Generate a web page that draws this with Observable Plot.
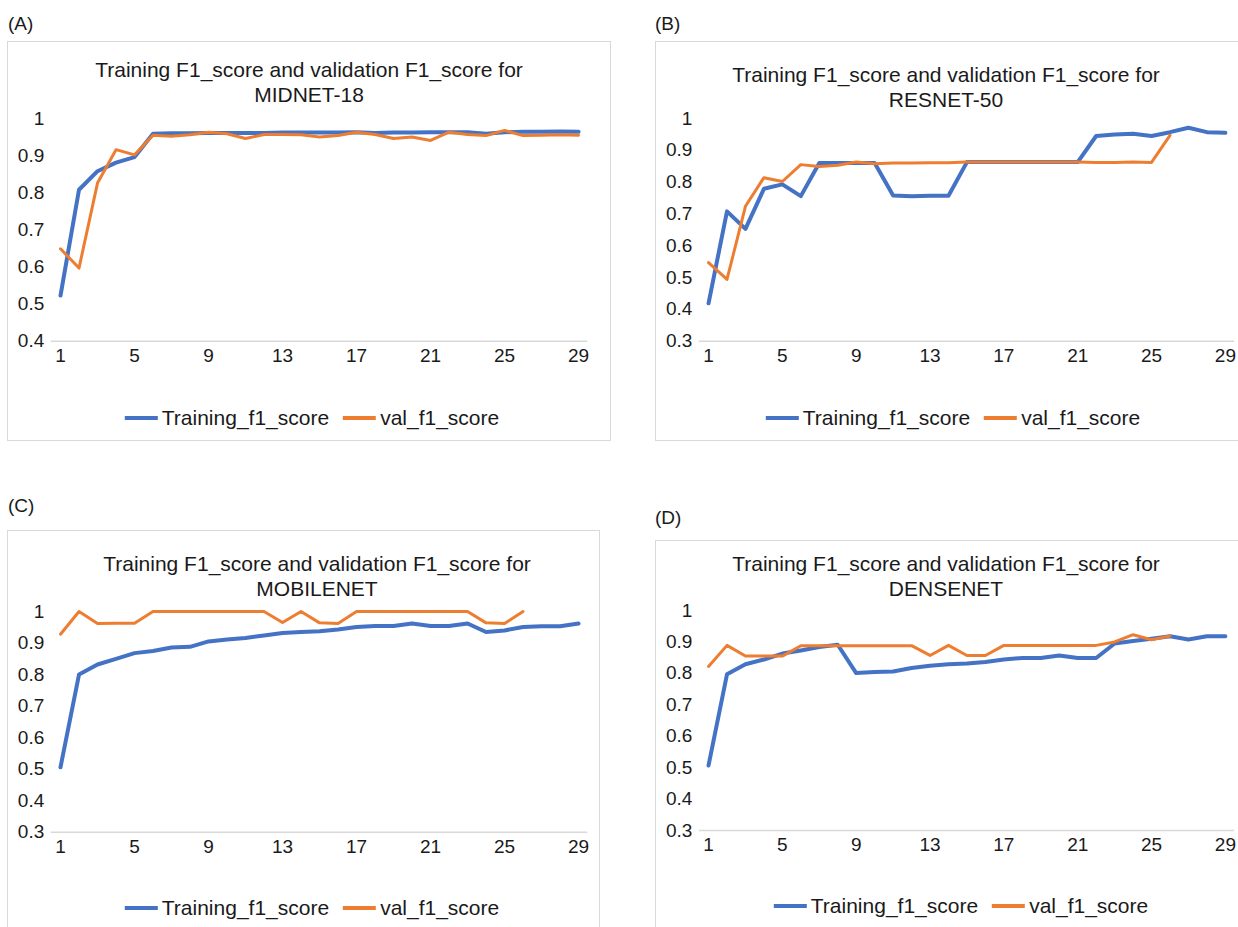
<!DOCTYPE html>
<html>
<head>
<meta charset="utf-8">
<script src="https://cdn.jsdelivr.net/npm/d3@7"></script>
<script src="https://cdn.jsdelivr.net/npm/@observablehq/plot@0.6"></script>
<style>
  html, body { margin: 0; padding: 0; background: #fff; }
  #root { position: relative; width: 1238px; height: 927px; overflow: hidden; font-family: "Liberation Sans", Arial, sans-serif; color: #1a1a1a; }
  .frame { position: absolute; border: 1px solid #d9d9d9; box-sizing: border-box; }
  .plabel { position: absolute; font-size: 19px; line-height: 1; }
  .title { position: absolute; font-size: 21px; line-height: 25px; text-align: center; white-space: nowrap; transform: translateX(-50%); }
  .legend { position: absolute; display: flex; align-items: center; font-size: 21px; white-space: nowrap; transform: translate(-50%, -50%); }
  .sw { display: inline-block; width: 33px; height: 4px; margin-right: 4px; }
  .item { display: flex; align-items: center; margin: 0 7px; }
  .chart { position: absolute; }
</style>
</head>
<body>
<div id="root"></div>
<script>
// ---- data ----
const epochs = [1,2,3,4,5,6,7,8,9,10,11,12,13,14,15,16,17,18,19,20,21,22,23,24,25,26,27,28,29];
const xTicks = [1,5,9,13,17,21,25,29];
const yTicksA = [0.4,0.5,0.6,0.7,0.8,0.9,1];
const yTicksBCD = [0.3,0.4,0.5,0.6,0.7,0.8,0.9,1];
const seriesNames = ["Training_f1_score", "val_f1_score"];
const panelLabels = ["(A)", "(B)", "(C)", "(D)"];
const modelNames = ["MIDNET-18", "RESNET-50", "MOBILENET", "DENSENET"];

const midnetTrain = [0.523,0.808,0.858,0.881,0.896,0.959,0.960,0.960,0.961,0.961,0.961,0.961,0.962,0.962,0.962,0.962,0.963,0.961,0.962,0.962,0.963,0.963,0.963,0.959,0.963,0.964,0.964,0.965,0.964];
const midnetVal   = [0.649,0.597,0.826,0.916,0.902,0.955,0.952,0.956,0.963,0.959,0.946,0.957,0.957,0.956,0.950,0.954,0.963,0.957,0.946,0.950,0.941,0.963,0.957,0.954,0.968,0.954,0.955,0.956,0.955];

const resnetTrain = [0.419,0.708,0.653,0.779,0.793,0.756,0.860,0.860,0.860,0.860,0.758,0.756,0.757,0.757,0.863,0.863,0.863,0.863,0.863,0.863,0.863,0.945,0.950,0.952,0.945,0.957,0.971,0.957,0.955];
const resnetVal   = [0.547,0.494,0.724,0.814,0.802,0.855,0.849,0.853,0.863,0.858,0.860,0.860,0.861,0.861,0.863,0.863,0.863,0.863,0.863,0.863,0.863,0.862,0.862,0.863,0.862,0.947];

const mobilenetTrain = [0.506,0.800,0.832,0.850,0.868,0.875,0.886,0.888,0.905,0.911,0.916,0.924,0.932,0.935,0.937,0.943,0.951,0.954,0.954,0.962,0.954,0.954,0.962,0.935,0.940,0.951,0.953,0.953,0.962];
const mobilenetVal   = [0.928,1.0,0.962,0.963,0.963,1.0,1.0,1.0,1.0,1.0,1.0,1.0,0.965,1.0,0.964,0.962,1.0,1.0,1.0,1.0,1.0,1.0,1.0,0.964,0.962,1.0];

const densenetTrain = [0.507,0.797,0.829,0.844,0.863,0.873,0.884,0.891,0.801,0.804,0.806,0.817,0.824,0.829,0.831,0.836,0.844,0.849,0.849,0.857,0.849,0.849,0.895,0.903,0.910,0.918,0.908,0.918,0.918];
const densenetVal   = [0.822,0.889,0.855,0.855,0.855,0.888,0.888,0.888,0.888,0.888,0.888,0.888,0.857,0.889,0.857,0.857,0.889,0.889,0.889,0.889,0.889,0.889,0.900,0.923,0.907,0.919];

const colors = ["#4472C4", "#ED7D31"];

// ---- layout ----
const panels = [
  {train: midnetTrain, val: midnetVal, yTicks: yTicksA, frame: {l:7, t:41, w:604, h:400}, m: {l:43.75, r:23.7, t:77, b:100.3},
   label: {x:8, y:14}, title: {x:309, y:57}, legend: {x:312, y:418}},
  {train: resnetTrain, val: resnetVal, yTicks: yTicksBCD, frame: {l:655, t:41, w:590, h:400}, m: {l:43.8, r:10.9, t:77, b:100.3},
   label: {x:655, y:14}, title: {x:946, y:62}, legend: {x:953, y:418}},
  {train: mobilenetTrain, val: mobilenetVal, yTicks: yTicksBCD, frame: {l:7, t:530, w:593, h:405}, m: {l:43.75, r:12.7, t:81, b:103.3},
   label: {x:8, y:496}, title: {x:317, y:551}, legend: {x:312, y:908}},
  {train: densenetTrain, val: densenetVal, yTicks: yTicksBCD, frame: {l:655, t:540, w:590, h:395}, m: {l:43.8, r:10.9, t:70, b:105},
   label: {x:655, y:508}, title: {x:946, y:551}, legend: {x:961, y:906}}
];

const root = document.getElementById("root");
const fmt = d => String(+(+d).toFixed(1));

panels.forEach((p, i) => {
  const frame = document.createElement("div");
  frame.className = "frame";
  Object.assign(frame.style, {left: p.frame.l + "px", top: p.frame.t + "px", width: p.frame.w + "px", height: p.frame.h + "px"});
  root.appendChild(frame);

  const lab = document.createElement("div");
  lab.className = "plabel";
  lab.textContent = panelLabels[i];
  Object.assign(lab.style, {left: p.label.x + "px", top: p.label.y + "px"});
  root.appendChild(lab);

  const rows = [];
  p.train.forEach((v, k) => rows.push({epoch: epochs[k], value: v, series: seriesNames[0]}));
  p.val.forEach((v, k) => rows.push({epoch: epochs[k], value: v, series: seriesNames[1]}));

  const chart = Plot.plot({
    width: p.frame.w,
    height: p.frame.h,
    marginLeft: p.m.l, marginRight: p.m.r, marginTop: p.m.t, marginBottom: p.m.b,
    style: {fontSize: "19px", fontFamily: '"Liberation Sans", Arial, sans-serif', color: "#1a1a1a", background: "transparent", overflow: "visible"},
    x: {domain: [0.5, 29.5], ticks: xTicks, tickFormat: d => String(d), tickSize: 0, tickPadding: 7, label: null},
    y: {domain: [p.yTicks[0], 1], ticks: p.yTicks, tickFormat: fmt, tickSize: 0, tickPadding: 7, label: null},
    color: {domain: seriesNames, range: colors},
    marks: [
      Plot.ruleY([p.yTicks[0]], {stroke: "#d9d9d9", strokeWidth: 1.5}),
      Plot.line(rows.filter(r => r.series === seriesNames[0]), {x: "epoch", y: "value", stroke: "series", strokeWidth: 4, strokeLinejoin: "round", strokeLinecap: "round"}),
      Plot.line(rows.filter(r => r.series === seriesNames[1]), {x: "epoch", y: "value", stroke: "series", strokeWidth: 3, strokeLinejoin: "round", strokeLinecap: "round"})
    ]
  });
  chart.classList.add("chart");
  chart.style.left = p.frame.l + "px";
  chart.style.top = p.frame.t + "px";
  chart.style.position = "absolute";
  root.appendChild(chart);

  const title = document.createElement("div");
  title.className = "title";
  title.innerHTML = "Training F1_score and validation F1_score for<br>" + modelNames[i];
  Object.assign(title.style, {left: p.title.x + "px", top: p.title.y + "px"});
  root.appendChild(title);

  const leg = document.createElement("div");
  leg.className = "legend";
  leg.innerHTML = seriesNames.map((s, k) =>
    `<span class="item"><span class="sw" style="background:${colors[k]}"></span>${s}</span>`).join("");
  Object.assign(leg.style, {left: p.legend.x + "px", top: p.legend.y + "px"});
  root.appendChild(leg);
});
</script>
</body>
</html>
